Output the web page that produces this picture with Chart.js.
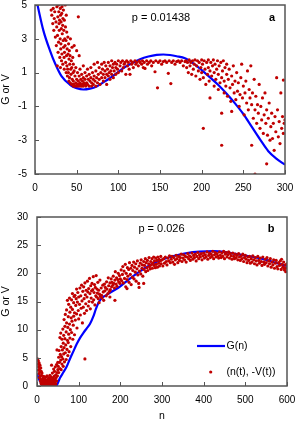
<!DOCTYPE html>
<html>
<head>
<meta charset="utf-8">
<script src="https://cdn.jsdelivr.net/npm/chart.js@4.4.1/dist/chart.umd.min.js"></script>
<style>
html,body{margin:0;padding:0;background:#fff;}
#wrap{width:295px;height:421px;}
canvas{display:block;}
</style>
</head>
<body>
<div id="wrap">
<canvas id="chartA" width="295" height="195"></canvas>
<canvas id="chartB" width="295" height="226"></canvas>
</div>
<script>
// ---------- panel a ----------
const ticksA_x = [0, 50, 100, 150, 200, 250, 300];
const ticksA_y = [-5, -3, -1, 1, 3, 5];

// G(n), panel a
const curveA = [[0,5.65],[3,5.0],[10,3.5],[18,2.3],[24,1.55],[32,0.77],[42,0.28],[50,0.08],[58,0.0],[66,0.05],[74,0.18],[82,0.42],[90,0.67],[98,0.97],[106,1.26],[116,1.55],[126,1.79],[136,1.95],[146,2.05],[154,2.07],[162,2.04],[170,1.97],[180,1.85],[190,1.55],[200,1.15],[210,0.72],[220,0.27],[230,-0.25],[240,-0.82],[250,-1.45],[260,-2.2],[270,-2.95],[280,-3.65],[290,-4.1],[300,-4.45]];

// (n(t), -V(t)), panel a
const dotsA = [
[19.4,4.7],[20.2,4.4],[21.3,3.9],[21.8,4.8],[22.6,3.5],[23.1,4.2],[23.7,4.6],[24.4,3.1],[25.2,4.0],[25.6,2.6],[26.3,4.9],[26.1,3.7],[26.8,1.4],[27.4,4.3],[27.0,3.2],[27.7,2.2],[28.2,5.0],[28.6,4.6],[28.9,3.9],[28.3,2.8],[29.5,4.1],[29.1,3.5],[29.8,1.9],[30.4,4.8],[30.7,4.4],[30.2,3.0],[30.9,2.4],[30.5,1.3],
[31.3,4.0],[31.6,3.6],[31.1,2.7],[31.8,1.7],[32.4,4.9],[32.1,4.5],[32.7,3.3],[32.3,2.1],[33.5,4.2],[33.2,3.8],[33.8,2.9],[33.4,1.5],[34.1,4.7],[34.6,3.5],[34.3,2.5],[34.9,1.9],[35.2,4.1],[35.7,3.0],[35.4,2.2],[35.1,1.2],[36.3,5.0],[36.6,3.7],[36.1,2.6],[36.8,1.6],[37.5,4.4],[37.2,2.9],[37.8,2.0],[37.4,1.0],[38.1,3.4],[38.6,2.4],[38.3,1.4],[38.9,0.8],[39.4,3.1],[39.7,2.1],[39.2,1.2],[40.3,2.7],[40.8,1.8],[40.1,1.0],[40.6,0.5],[41.2,2.3],[41.7,1.5],[41.4,0.7],[42.5,3.0],[42.1,2.0],[42.8,1.2],[42.3,0.4],[43.6,1.7],[43.2,0.9],[43.9,0.3],[44.4,2.5],[44.1,1.3],[44.7,0.6],[45.3,1.9],[45.8,1.0],[45.5,0.3],
[46,1.5],[46,0.5],[46,0.2],[47,2.6],[47,1.1],[47,0.3],[48,0.8],[48,0.2],[49,1.3],[49,0.4],[50,2.3],[50,0.6],[50,0.2],[51,1.0],[51,0.3],[52,4.3],[52,0.5],[52,0.2],[53,2.0],[53,0.8],[53,0.3],[54,1.2],[54,0.4],[54,0.2],[55,0.6],[55,0.3],[56,0.9],[56,0.2],[57,0.5],[57,0.3],[58,1.4],[58,0.7],[58,0.2],[59,0.4],[60,1.0],[60,0.6],[60,0.3],
[61,0.2],[62,0.8],[62,0.4],[63,1.2],[63,0.3],[64,0.6],[65,0.9],[65,0.2],[66,0.5],[67,1.3],[67,0.7],[68,0.4],[68,0.2],[69,1.0],[70,0.6],[70,0.3],[71,1.5],[71,0.8],[72,0.5],[73,1.1],[73,0.2],[74,0.7],[75,1.6],[75,0.4],[76,0.9],[77,1.3],[77,0.6],[78,0.3],[79,1.0],[80,1.5],[80,0.7],[81,1.2],[82,0.5],[82,0.9],[83,1.6],[84,1.1],[84,0.7],[85,1.4],[86,0.9],[86,0.3],[87,1.2],[88,1.6],[88,0.8],[89,1.0],[90,1.4],[90,0.6],[91,1.1],[92,1.7],[92,0.9],[93,1.3],[94,1.5],[94,0.7],[95,1.1],[96,1.6],[97,1.3],[97,0.9],[98,1.5],[99,1.2],[100,1.7],[100,1.0],
[102,1.4],[103,1.6],[104,1.1],[105,1.7],[106,1.3],[107,1.5],[108,1.6],[109,0.9],[110,1.7],[111,1.4],[112,1.6],[113,1.2],[114,0.9],[115,1.7],[116,1.5],[117,1.6],[118,1.3],[120,1.7],[121,1.5],[122,1.6],[124,1.4],[125,1.7],[126,1.6],[128,1.5],[129,1.7],[130,1.3],[131,1.6],[132,1.25],[134,1.7],[135,1.5],[137,1.6],[139,1.7],[140,1.4],[142,1.6],[144,1.05],[145,1.7],[147,0.1],[148,1.6],[150,1.7],[152,1.5],[154,1.65],[156,1.7],[158,1.6],[160,0.96],[161,1.7],[163,0.35],[164,1.6],[166,1.7],[168,1.5],[170,1.65],[172,1.7],[174,1.6],[176,1.7],[178,1.4],[180,1.65],
[181,1.7],[182,1.3],[183,1.6],[184,1.0],[185,1.75],[186,1.4],[187,1.6],[188,0.9],[189,1.7],[190,1.2],[191,1.5],[192,1.75],[193,0.8],[194,1.4],[195,1.7],[196,1.1],[197,1.6],[198,0.6],[199,1.3],[200,1.75],[200,1.0],[201,1.5],[202,-2.3],[202,0.7],[203,1.7],[204,1.2],[205,0.3],[206,1.6],[207,0.9],[208,1.75],[208,1.3],[209,0.5],[210,-0.5],[210,1.1],[211,1.6],[212,0.8],[213,1.4],[214,1.75],[215,0.2],[215,1.0],[216,1.5],[217,0.6],[218,1.2],[219,1.7],[220,0.9],[220,0.0],[221,1.4],[222,0.4],[223,1.6],[224,-1.4],[224,-3.3],[224,0.7],[225,1.1],[226,1.7],[227,-0.2],[227,0.5],[228,1.3],[229,0.2],[230,0.9],[230,1.5],
[231,-0.4],[232,0.6],[233,1.2],[234,0.1],[235,-0.7],[236,-1.3],[236,0.8],[237,0.3],[238,1.4],[239,-0.2],[240,0.5],[241,-0.6],[242,1.0],[243,-0.1],[244,0.4],[245,-1.0],[246,-0.3],[247,0.7],[248,1.5],[249,-0.5],[250,0.2],[251,-1.5],[252,-0.2],[253,0.5],[254,-0.8],[255,1.1],[256,-1.2],[257,0.0],[258,-0.5],[259,1.4],[260,-3.3],[260,-0.9],[261,-0.2],[262,-1.7],[263,0.6],[264,-5.0],[264,-1.2],[265,-0.4],[266,-2.0],[267,-0.9],[268,-1.4],[269,0.3],[270,-2.3],[271,-1.0],[272,-1.8],[273,-0.5],[274,-2.6],[275,-1.5],[276,-0.2],[277,-2.0],[278,-4.4],[278,-1.2],[279,-2.7],[280,-1.7],[281,-0.8],[282,-3.0],[283,-2.2],[284,-1.4],[285,-2.9],[286,-2.0],[287,-3.6],[288,-1.6],[289,-2.5],[290,0.7],[291,-1.2],[292,-2.8],[293,-1.9],[294,-3.2],[295,-0.2],[296,-2.3],[297,-1.6],[298,0.56],[298,-2.6],[299,-2.0],[300,-1.8]
];

// ---------- panel b ----------
const ticksB_x = [0, 100, 200, 300, 400, 500, 600];
const ticksB_y = [0, 5, 10, 15, 20, 25, 30];

// G(n), panel b
const curveB = [[0,2.2],[5,1.2],[10,0.5],[15,0.15],[20,0.0],[30,0.0],[40,0.0],[47,0.1],[55,1.4],[63,2.4],[71,3.4],[79,4.8],[87,6.1],[95,7.4],[103,8.5],[111,9.4],[119,10.2],[127,11.0],[135,12.3],[141,13.6],[147,14.7],[153,15.4],[159,15.8],[170,16.3],[183,16.9],[200,17.7],[220,18.9],[240,20.0],[260,21.0],[280,21.8],[300,22.4],[320,22.9],[340,23.3],[360,23.6],[390,23.85],[424,23.95],[450,23.8],[472,23.5],[500,23.15],[520,22.9],[550,22.4],[576,21.8],[600,21.3]];

// (n(t), -V(t)), panel b
const dotsB = [
[1,4.8],[2,3.9],[3,4.5],[3,2.8],[4,3.4],[5,4.1],[5,2.2],[6,3.0],[6,1.5],[7,3.7],[7,2.5],[8,1.8],[8,0.9],[9,3.2],[9,1.2],[10,2.6],[10,0.5],[11,1.9],[11,0.3],[12,2.3],[12,1.0],[13,0.6],[13,0.2],[14,1.4],[14,0.4],[15,0.8],[15,0.1],[16,1.7],[16,0.5],[17,0.2],[17,1.1],[18,0.7],[18,0.0],[19,1.3],[19,0.4],[20,0.2],[20,0.9],[21,1.6],[21,0.3],[22,0.6],[22,0.0],[23,1.0],[23,0.3],[24,0.5],[24,1.8],[25,0.1],[25,0.8],[26,1.2],[26,0.4],[27,0.2],[27,0.7],[28,1.5],[28,0.0],[29,0.5],[29,1.0],[30,0.3],[30,0.8],[31,1.9],[31,0.1],[32,0.6],[32,1.3],[33,0.2],[33,0.9],[34,0.4],[34,1.6],[35,0.1],[35,0.7],[35,3.7],[36,1.1],[36,0.3],[37,2.3],[37,0.5],[38,0.0],[38,1.4],[39,0.8],[39,0.2],[40,3.0],[40,1.0],[41,0.4],[41,1.7],[42,0.6],[42,2.6],[43,0.2],[43,1.2],[44,3.4],[44,0.8],[45,2.0],[45,0.4],[46,1.5],[47,3.8],[47,0.9],[48,2.4],[48,6.4],[49,1.8],[50,4.2],[50,2.9],
[51,3.5],[52,5.1],[52,2.4],[53,6.3],[54,4.2],[55,8.6],[55,3.1],[56,5.6],[57,9.4],[57,4.6],[58,7.0],[58,2.9],[59,5.2],[60,8.3],[60,3.9],[61,6.4],[62,10.1],[62,4.8],[63,7.6],[63,3.5],[64,9.0],[64,5.7],[65,11.8],[65,6.8],[66,4.3],[67,8.4],[67,10.6],[68,12.7],[68,5.9],[69,7.3],[70,9.6],[70,4.7],[71,13.5],[71,11.2],[72,6.5],[73,8.1],[73,15.2],[74,10.4],[74,5.4],[75,12.3],[75,7.7],[76,14.5],[76,9.2],[77,6.1],[78,11.0],[78,15.6],[79,13.1],[79,8.5],[80,10.0],[81,14.0],[81,7.0],[82,12.1],[83,15.3],[83,9.5],[84,11.5],[85,16.4],[85,13.6],[86,8.3],[87,10.8],[88,14.8],[88,12.4],[89,15.9],[90,9.1],[90,13.0],[91,16.1],[92,11.7],[93,14.3],[94,15.5],[95,12.8],[95,17.2],[96,10.3],[97,14.9],[98,16.6],[99,13.4],[100,15.8],[100,11.9],
[102,14.5],[103,17.4],[104,12.6],[105,16.0],[106,13.8],[107,17.9],[108,15.1],[109,11.2],[110,16.8],[111,14.0],[112,17.6],[113,15.5],[114,12.9],[115,4.8],[115,18.3],[116,16.2],[117,14.6],[118,17.0],[119,13.4],[120,15.8],[121,18.6],[122,16.7],[123,14.2],[124,17.3],[125,15.0],[126,19.1],[127,16.4],[128,13.7],[129,17.8],[130,15.6],[131,16.9],[132,18.2],[133,14.9],[134,17.1],[135,19.4],[136,15.3],[137,16.6],[138,18.0],[139,14.4],[140,17.5],[141,16.0],[142,19.6],[143,15.8],[144,17.2],[145,16.5],[146,18.4],[147,15.5],[148,17.0],[149,14.8],[150,16.3],[151,18.8],[152,15.9],[154,17.4],[155,16.1],[156,15.6],[158,17.9],[159,16.7],[160,15.2],[162,18.1],[163,16.9],[164,17.5],[166,16.0],[167,18.5],[168,17.2],[170,16.4],[171,19.2],[172,17.8],[174,16.8],[175,15.8],[175,18.3],[176,17.1],[178,19.0],[179,17.6],[180,18.4],[182,17.9],[183,19.5],[184,18.2],[186,17.4],[187,15.2],[187,18.8],[188,20.3],[190,18.1],[191,19.2],[192,17.7],[194,18.9],[195,20.0],[196,18.5],[198,19.6],[199,18.2],[200,19.0],
[202,20.6],[203,18.7],[205,19.8],[206,21.2],[207,18.3],[209,20.4],[210,19.1],[212,21.6],[213,17.6],[214,20.0],[216,18.9],[216,17.3],[217,21.0],[218,19.5],[220,20.7],[221,18.4],[222,21.9],[224,19.8],[225,20.9],[226,18.0],[228,21.4],[229,19.3],[230,20.5],[232,22.0],[233,19.0],[234,21.1],[236,20.2],[237,21.7],[238,18.6],[240,20.8],[241,22.2],[242,19.7],[244,18.2],[245,21.3],[245,17.5],[246,20.4],[248,21.8],[249,19.9],[250,22.4],[252,20.9],[253,21.5],[254,19.5],[256,18.2],[256,22.1],[257,20.7],[258,21.4],[260,22.6],[261,20.3],[262,21.9],[264,21.0],[265,22.3],[266,20.5],[268,21.7],[269,22.8],[270,21.2],[272,20.8],[273,22.1],[274,21.5],[276,22.6],[277,20.9],[278,21.8],[280,22.9],[281,21.4],[282,22.2],[284,21.0],[285,22.7],[286,21.6],[288,22.3],[289,21.1],[290,22.9],[292,21.8],[293,22.5],[294,21.3],[296,22.2],[297,23.0],[298,21.7],[300,22.4],
[302,21.3],[304,22.6],[306,21.8],[308,22.9],[310,22.1],[312,21.5],[314,22.7],[316,22.2],[318,23.1],[320,21.9],[322,22.5],[324,23.0],[326,22.0],[328,22.8],[330,21.6],[332,22.4],[334,23.2],[336,22.6],[338,21.9],[340,23.0],[342,22.3],[344,22.8],[346,23.4],[348,22.1],[350,22.7],[352,23.3],[354,22.4],[356,23.0],[358,22.0],[360,22.9],[362,23.5],[364,22.6],[366,23.1],[368,22.3],[370,22.9],[372,23.6],[374,22.5],[376,23.2],[378,22.8],[380,23.4],[382,22.2],[384,23.0],[386,23.7],[388,22.6],[390,23.3],[392,22.9],[394,23.5],[396,22.4],[398,23.1],[400,23.6],[402,22.7],[404,23.3],[406,22.9],[408,23.8],[410,22.5],[412,23.2],[414,23.6],[416,22.8],[418,23.4],[420,23.0],[422,23.9],[424,22.6],[426,23.3],[428,23.7],[430,22.9],[432,23.5],[434,23.1],[436,22.7],[438,23.8],[440,23.2],[442,22.8],[444,23.6],[446,23.0],[448,23.9],[450,22.6],[452,23.4],[454,23.7],[456,22.9],[458,23.3],[460,23.8],[462,22.7],[464,23.5],[466,23.1],[468,22.5],[470,23.6],[472,23.0],[474,22.6],[476,23.4],[478,22.8],[480,23.2],[482,22.4],[484,23.5],[486,22.9],[488,22.3],[490,23.1],[492,22.6],[494,23.4],[496,22.1],[498,22.8],[500,23.2],
[502,22.5],[504,21.9],[506,22.9],[508,22.3],[510,23.0],[512,21.8],[514,22.6],[516,22.0],[518,23.1],[520,22.4],[522,21.7],[524,22.8],[526,22.2],[528,21.5],[530,23.0],[532,22.3],[534,21.8],[536,22.7],[538,22.1],[540,21.4],[542,22.9],[544,22.0],[546,21.6],[548,22.5],[550,21.9],[552,22.8],[554,21.3],[556,22.2],[558,21.7],[560,22.6],[562,21.1],[564,22.0],[566,21.5],[568,22.4],[570,20.9],[572,21.8],[574,22.3],[576,21.2],[578,20.8],[580,21.9],[582,21.4],[584,22.2],[586,20.7],[587,22.5],[588,21.6],[590,21.1],[592,22.0],[593,21.0],[594,20.6],[596,21.5],[597,20.3],[598,20.9],[600,21.7]
];

const FONT = '"Liberation Sans", Arial, sans-serif';
const RED = '#c00000';
const BLUE = '#0000ff';
const AXIS = '#555';

const toXY = arr => arr.map(p => ({x: p[0], y: p[1]}));

// box, inward ticks, p-value, panel letter and legend
const frame = {
    id: 'frame',
    afterDraw(chart, args, o) {
        const {ctx, chartArea: a, scales} = chart;
        ctx.save();
        ctx.strokeStyle = AXIS;
        ctx.lineWidth = 1;
        scales.x.ticks.forEach(t => {
            const px = Math.round(scales.x.getPixelForValue(t.value)) + 0.5;
            ctx.beginPath(); ctx.moveTo(px, a.bottom); ctx.lineTo(px, a.bottom - 4); ctx.stroke();
        });
        scales.y.ticks.forEach(t => {
            const py = Math.round(scales.y.getPixelForValue(t.value)) + 0.5;
            ctx.beginPath(); ctx.moveTo(a.left, py); ctx.lineTo(a.left + 4, py); ctx.stroke();
        });
        ctx.lineWidth = 1.5;
        ctx.strokeRect(a.left, a.top, a.right - a.left, a.bottom - a.top);

        ctx.fillStyle = '#000';
        ctx.textBaseline = 'middle';
        ctx.textAlign = 'center';
        ctx.font = '11px ' + FONT;
        ctx.fillText(o.pText, a.left + o.pX, a.top + o.pY);
        ctx.font = 'bold 11px ' + FONT;
        ctx.fillText(o.tag, a.right - o.tagDx, a.top + o.pY);

        if (o.legend) {
            ctx.font = '10.5px ' + FONT;
            ctx.textAlign = 'left';
            const ly = a.bottom - 40;
            ctx.strokeStyle = BLUE;
            ctx.lineWidth = 2.2;
            ctx.beginPath(); ctx.moveTo(a.left + 160, ly); ctx.lineTo(a.left + 188, ly); ctx.stroke();
            ctx.fillText('G(n)', a.left + 189.5, ly);
            const dy = a.bottom - 14;
            ctx.fillStyle = RED;
            ctx.beginPath(); ctx.arc(a.left + 173.7, dy, 1.6, 0, Math.PI * 2); ctx.fill();
            ctx.fillStyle = '#000';
            ctx.fillText('(n(t), -V(t))', a.left + 189.5, dy);
        }
        ctx.restore();
    }
};

// drop the label overhang padding so the plot box sits where it should
function noPad(s) {
    s.paddingTop = 0; s.paddingBottom = 0; s.paddingLeft = 0; s.paddingRight = 0;
}

function makeChart(id, dots, curve, xr, yr, xt, yt, lay, fr) {
    return new Chart(document.getElementById(id), {
        type: 'scatter',
        data: {
            datasets: [
                {
                    label: '(n(t), -V(t))',
                    data: toXY(dots),
                    pointRadius: 1.6,
                    pointBorderWidth: 0,
                    pointBackgroundColor: RED,
                    showLine: false
                },
                {
                    label: 'G(n)',
                    data: toXY(curve),
                    showLine: true,
                    pointRadius: 0,
                    borderColor: BLUE,
                    borderWidth: 2.2,
                    cubicInterpolationMode: 'monotone'
                }
            ]
        },
        options: {
            responsive: false,
            animation: false,
            events: [],
            layout: { padding: lay.padding },
            plugins: {
                legend: { display: false },
                tooltip: { enabled: false },
                frame: fr
            },
            scales: {
                x: {
                    type: 'linear', min: xr[0], max: xr[1],
                    afterBuildTicks: s => { s.ticks = xt.map(v => ({value: v})); },
                    afterFit: s => { s.height = lay.xh; noPad(s); },
                    grid: { display: false, drawTicks: false },
                    border: { display: false },
                    ticks: { color: '#000', padding: lay.xpad, maxRotation: 0, font: { family: FONT, size: 10, lineHeight: 1 } },
                    title: lay.xTitle ? { display: true, text: 'n', color: '#000', padding: {top: 0, bottom: 0}, font: { family: FONT, size: 10.5, lineHeight: 1 } } : { display: false }
                },
                y: {
                    type: 'linear', min: yr[0], max: yr[1],
                    afterBuildTicks: s => { s.ticks = yt.map(v => ({value: v})); },
                    afterFit: s => { s.width = lay.yw; noPad(s); },
                    grid: { display: false, drawTicks: false },
                    border: { display: false },
                    ticks: { color: '#000', padding: lay.ypad, font: { family: FONT, size: 10, lineHeight: 1 } },
                    title: { display: true, text: 'G or V', color: '#000', padding: {top: 0, bottom: 0}, font: { family: FONT, size: 10.5, lineHeight: 1.1 } }
                }
            }
        },
        plugins: [frame]
    });
}

makeChart('chartA', dotsA, curveA, [0, 300], [-5, 5], ticksA_x, ticksA_y,
    { padding: {left: 0, top: 5, right: 10, bottom: 0}, xh: 21, yw: 35, xpad: 9, ypad: 8, xTitle: false },
    { pText: 'p = 0.01438', pX: 126, pY: 13, tag: 'a', tagDx: 13, legend: false });

makeChart('chartB', dotsB, curveB, [0, 600], [0, 30], ticksB_x, ticksB_y,
    { padding: {left: 0, top: 22, right: 8, bottom: 0}, xh: 35, yw: 37, xpad: 9, ypad: 9, xTitle: true },
    { pText: 'p = 0.026', pX: 124.5, pY: 12, tag: 'b', tagDx: 16, legend: true });
</script>
</body>
</html>
